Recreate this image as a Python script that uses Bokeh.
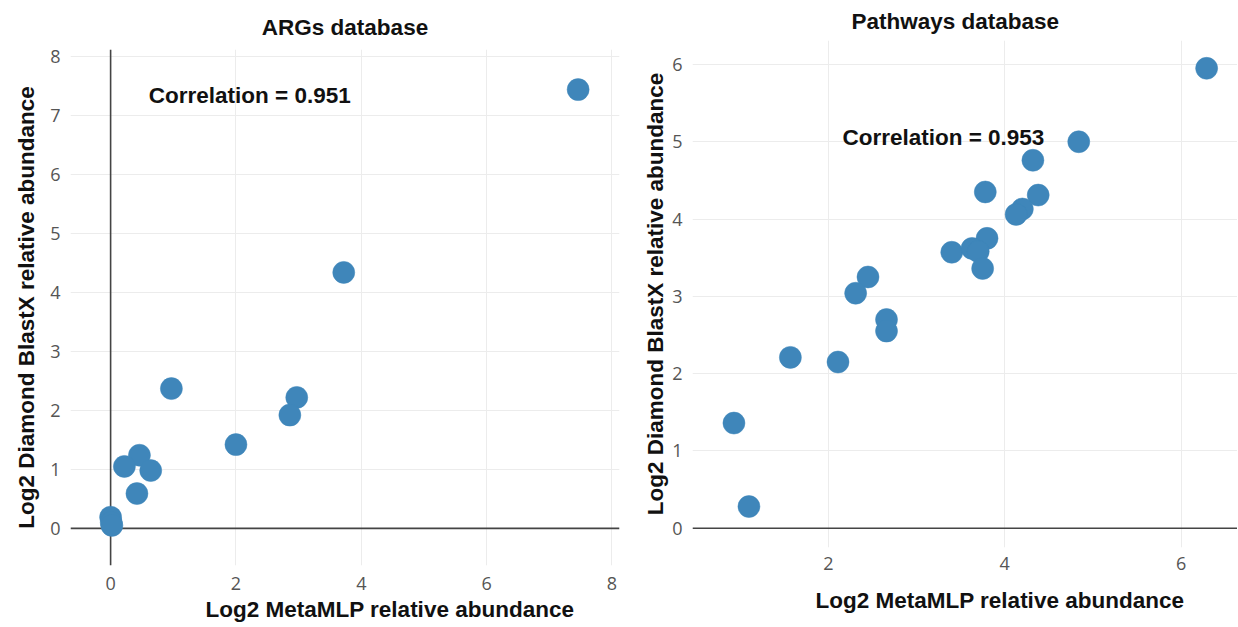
from bokeh.plotting import figure
from bokeh.layouts import row, column
from bokeh.models import Span, Label, Range1d, FixedTicker, Title
from bokeh.embed import file_html
from bokeh.resources import INLINE

# ARGs database
args_x = [7.46, 3.72, 0.97, 2.97, 2.86, 2.00, 0.46, 0.22, 0.64, 0.42, 0.00, 0.01, 0.02]
args_y = [7.44, 4.34, 2.37, 2.22, 1.92, 1.42, 1.24, 1.05, 0.98, 0.59, 0.19, 0.10, 0.05]
args_corr = "Correlation = 0.951"

# Pathways database
path_x = [6.29, 4.84, 4.32, 3.78, 4.38, 4.20, 4.13, 3.80, 3.40, 3.63, 3.70, 3.75,
          2.45, 2.31, 2.66, 2.66, 2.11, 1.57, 0.93, 1.10]
path_y = [5.95, 5.00, 4.76, 4.35, 4.31, 4.13, 4.06, 3.75, 3.57, 3.62, 3.58, 3.36,
          3.25, 3.04, 2.70, 2.55, 2.15, 2.21, 1.36, 0.28]
path_corr = "Correlation = 0.953"

x_label = "Log2 MetaMLP relative abundance"
y_label = "Log2 Diamond BlastX relative abundance"

MARK = "#3f86ba"
BOLD = "Liberation Sans"
TICKF = "Open Sans"
BSIZE = "22.5px"
H = 626


def make(title, xs, ys, xr, yr, xticks, yticks, w, borders, xstand, ystand,
         tstand, talign, toff, zero_x, corr, cpos):
    p = figure(width=w, height=H, output_backend="svg", toolbar_location=None,
               x_range=Range1d(*xr), y_range=Range1d(*yr),
               min_border_left=borders[0], min_border_right=borders[1],
               min_border_top=borders[2], min_border_bottom=borders[3])
    p.title.text = title
    p.title.align = talign
    p.title.text_font = BOLD
    p.title.text_font_size = BSIZE
    p.title.text_font_style = "bold"
    p.title.text_color = "#111111"
    p.title.standoff = tstand
    p.title.offset = toff
    p.outline_line_color = None
    p.background_fill_color = "white"
    p.border_fill_color = "white"
    for ax, ticks in ((p.xaxis[0], xticks), (p.yaxis[0], yticks)):
        ax.ticker = FixedTicker(ticks=ticks)
        ax.axis_line_color = None
        ax.major_tick_line_color = None
        ax.minor_tick_line_color = None
        ax.major_label_text_font = TICKF
        ax.major_label_text_font_size = "18px"
        ax.major_label_text_color = "#555555"
        ax.axis_label_text_font = BOLD
        ax.axis_label_text_font_size = BSIZE
        ax.axis_label_text_font_style = "bold"
        ax.axis_label_text_color = "#111111"
    p.yaxis.axis_label = y_label
    p.xaxis.major_label_standoff = xstand[0]
    p.yaxis.major_label_standoff = ystand[0]
    p.yaxis.axis_label_standoff = ystand[1]
    # x-axis title, placed off-centre as in the original layout
    p.add_layout(Title(text=x_label, align="left", offset=xstand[2],
                       standoff=xstand[1], text_font=BOLD, text_font_size=BSIZE,
                       text_font_style="bold", text_color="#111111"), "below")
    p.grid.grid_line_color = "#ececec"
    p.grid.grid_line_width = 1
    p.add_layout(Span(location=0, dimension="width", line_color="#444444",
                      line_width=1.6, level="underlay"))
    if zero_x:
        p.add_layout(Span(location=0, dimension="height", line_color="#444444",
                          line_width=1.6, level="underlay"))
    p.scatter(xs, ys, size=22, fill_color=MARK, line_color=MARK, line_width=0.5)
    p.add_layout(Label(x=cpos[0], y=cpos[1], text=corr, text_font=BOLD,
                       text_font_size=BSIZE, text_font_style="bold",
                       text_color="#111111", text_baseline="middle"))
    return p


p1 = make("ARGs database", args_x, args_y, (-0.64, 8.12), (-0.63, 8.12),
          [0, 2, 4, 6, 8], [0, 1, 2, 3, 4, 5, 6, 7, 8], 623,
          (70, 4, 49, H - 565), (5, 5, 135), (4, 8), 20, "center", 0, True,
          args_corr, (0.61, 7.34))
p2 = make("Pathways database", path_x, path_y, (0.46, 6.64), (-0.25, 6.31),
          [2, 4, 6], [0, 1, 2, 3, 4, 5, 6], 614,
          (69, 0, 40, H - 547), (3, 27, 123), (4, 1), 13, "left", 159, False,
          path_corr, (2.16, 5.06))

layout = row(column(p1), column(p2))
open("out.html", "w").write(file_html(layout, INLINE))
